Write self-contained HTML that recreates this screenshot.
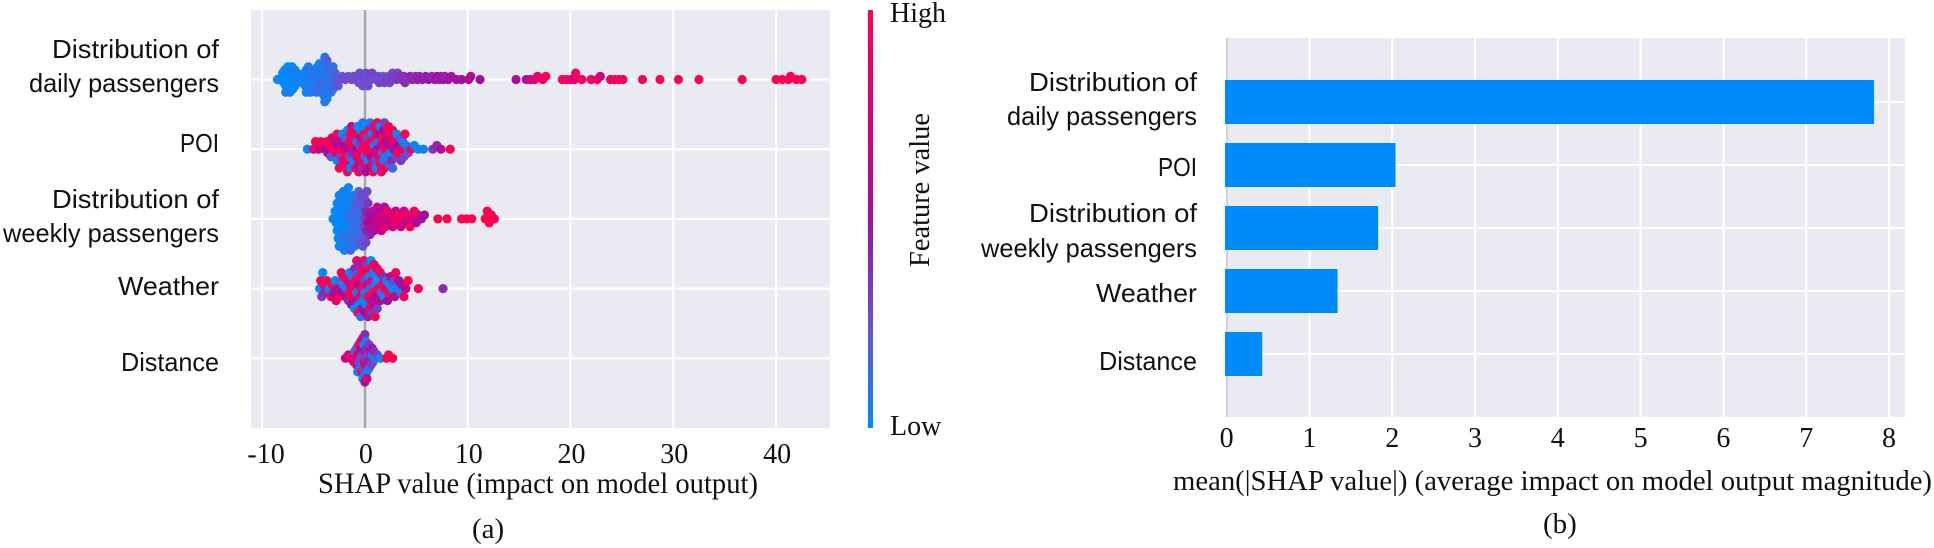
<!DOCTYPE html>
<html lang="en">
<head>
<meta charset="utf-8">
<title>SHAP summary plots</title>
<style>
html,body{margin:0;padding:0;background:#fff;width:1934px;height:548px;overflow:hidden}
svg{display:block}
.serif{font-family:"Liberation Serif",serif;fill:#111}
.sans{font-family:"Liberation Sans",sans-serif;fill:#111;font-size:26px}
</style>
</head>
<body>
<svg id="chart" width="1934" height="548" viewBox="0 0 1934 548" xmlns="http://www.w3.org/2000/svg">
<defs>
<linearGradient id="cbar" x1="0" y1="1" x2="0" y2="0">
<stop offset="0" stop-color="#008bfb"/><stop offset=".25" stop-color="#6a50d0"/><stop offset=".5" stop-color="#a010a0"/><stop offset=".75" stop-color="#d80080"/><stop offset="1" stop-color="#ff0051"/>
</linearGradient>
</defs>
<rect x="251" y="10" width="579" height="418" fill="#eaeaf2"/>
<rect x="1226" y="38" width="679" height="379" fill="#eaeaf2"/>
<g id="gridA"></g>
<g id="gridB"></g>
<rect x="363.8" y="10" width="2.4" height="418" fill="#a6a6a6"/>
<rect x="1226" y="38" width="2" height="379" fill="#d2d2d8"/>
<g id="dots"></g>
<g id="bars"></g>
<g id="ticksA" class="serif" font-size="28"></g>
<g id="ticksB" class="serif" font-size="28"></g>

<g class="sans">
<text x="52" y="58" textLength="167" lengthAdjust="spacingAndGlyphs">Distribution of</text>
<text x="29" y="92" textLength="190" lengthAdjust="spacingAndGlyphs">daily passengers</text>
<text x="180" y="152" textLength="39" lengthAdjust="spacingAndGlyphs">POI</text>
<text x="52" y="208" textLength="167" lengthAdjust="spacingAndGlyphs">Distribution of</text>
<text x="3" y="242" textLength="216" lengthAdjust="spacingAndGlyphs">weekly passengers</text>
<text x="118" y="295" textLength="101" lengthAdjust="spacingAndGlyphs">Weather</text>
<text x="121" y="371" textLength="98" lengthAdjust="spacingAndGlyphs">Distance</text>
</g>
<g class="sans">
<text x="1029" y="91" textLength="168" lengthAdjust="spacingAndGlyphs">Distribution of</text>
<text x="1007" y="125" textLength="190" lengthAdjust="spacingAndGlyphs">daily passengers</text>
<text x="1158" y="176" textLength="39" lengthAdjust="spacingAndGlyphs">POI</text>
<text x="1029" y="222" textLength="168" lengthAdjust="spacingAndGlyphs">Distribution of</text>
<text x="981" y="257" textLength="216" lengthAdjust="spacingAndGlyphs">weekly passengers</text>
<text x="1096" y="302" textLength="101" lengthAdjust="spacingAndGlyphs">Weather</text>
<text x="1099" y="370" textLength="98" lengthAdjust="spacingAndGlyphs">Distance</text>
</g>

<rect x="868" y="10" width="5" height="418" fill="url(#cbar)"/>
<text class="serif" x="890" y="22" font-size="28">High</text>
<text class="serif" x="890" y="435" font-size="28">Low</text>
<text class="serif" transform="translate(929,267) rotate(-90)" font-size="29" textLength="154" lengthAdjust="spacingAndGlyphs">Feature value</text>

<text class="serif" x="318" y="493" font-size="30" textLength="440" lengthAdjust="spacingAndGlyphs">SHAP value (impact on model output)</text>
<text class="serif" x="472" y="538" font-size="29">(a)</text>
<text class="serif" x="1173" y="490" font-size="29" textLength="759" lengthAdjust="spacingAndGlyphs">mean(|SHAP value|) (average impact on model output magnitude)</text>
<text class="serif" x="1543" y="533" font-size="29">(b)</text>
</svg>

<script>
const swarmTicks = [-10, 0, 10, 20, 30, 40];
const barTicks = [0, 1, 2, 3, 4, 5, 6, 7, 8];
const barValues = [7.82, 2.04, 1.83, 1.34, 0.43];
const barNames = ['daily', 'poi', 'weekly', 'weather', 'distance'];

const dailyShap = [-8.5,-8.1,-8,-7.9,-7.8,-7.8,-7.7,-7.7,-7.6,-7.6,-7.5,-7.5,-7.4,-7.4,-7.3,-7.3,-7.2,-7.2,-7.1,-7.1,-7,-7,-6.9,-6.8,-6.8,-6.7,-6.6,-6.5,-6.3,-6.1,-6,-5.9,-5.8,-5.8,-5.7,-5.7,-5.6,-5.6,-5.5,-5.5,-5.4,-5.4,-5.3,-5.3,-5.2,-5.2,-5.1,-5,-5,-4.9,-4.8,-4.8,-4.7,-4.7,-4.6,-4.6,-4.5,-4.5,-4.4,-4.4,-4.3,-4.3,-4.2,-4.2,-4.1,-4.1,-4,-4,-4,-3.9,-3.9,-3.9,-3.9,-3.8,-3.8,-3.8,-3.7,-3.7,-3.7,-3.6,-3.6,-3.5,-3.5,-3.4,-3.4,-3.3,-3.3,-3.2,-3.2,-3.1,-3.1,-3,-2.9,-2.8,-2.7,-2.6,-2.4,-2.2,-1.9,-1.6,-1.3,-1.1,-.9,-.7,-.6,-.5,-.3,-.2,-.1,0,.1,.2,.3,.4,.6,.7,.9,1.1,1.3,1.4,1.6,1.8,1.9,2.1,2.3,2.4,2.6,2.7,2.9,3.1,3.2,3.4,3.6,3.8,3.9,4.1,4.4,4.6,4.9,5.1,5.3,5.6,5.9,6.2,6.5,6.8,7,7.2,7.4,7.6,7.8,8.1,8.4,8.9,9.4,10.1,10.3,11.2,14.7,15.7,16.1,16.5,16.8,17.3,17.6,19.2,19.6,20,20.4,20.5,21.1,22,22.6,22.9,23.9,24.3,24.7,25.1,27,28.7,30.5,32.5,36.7,40,40.6,41.2,41.4,42,42.5];
const dailyFeature = [0,0,0,.02,0,.02,0,.03,0,.02,.03,0,.02,0,.03,.05,0,.02,.05,0,.03,.02,.05,0,.03,.05,.02,.05,.03,.05,.02,.05,.03,.06,.04,.02,.05,.08,.03,.06,.04,.08,.05,.03,.1,.06,.04,.08,.12,.06,.05,.1,.08,.12,.06,.04,.1,.15,.08,.05,.12,.08,.06,.1,.18,.08,.05,.1,.06,.12,.08,.05,.1,.14,.08,.06,.1,.2,.08,.12,.06,.1,.18,.08,.12,.06,.1,.15,.08,.12,.1,.14,.18,.2,.2,.22,.25,.24,.28,.25,.27,.24,.26,.28,.25,.27,.24,.26,.28,.25,.26,.24,.27,.28,.26,.3,.28,.25,.27,.3,.28,.25,.3,.32,.26,.3,.34,.28,.32,.35,.3,.36,.34,.38,.4,.36,.4,.42,.38,.45,.42,.46,.44,.48,.42,.46,.5,.44,.48,.52,.42,.5,.48,.52,.5,.54,.56,.52,.55,.52,.72,.82,.88,.9,.94,.92,.96,.86,.78,.95,.92,.98,.9,.72,.8,.94,.98,.92,.96,1,1,1,1,1,1,1,1,1,1,1,1];

const poiShap = [-5.6,-5,-4.8,-4.5,-4.3,-3.9,-3.7,-3.6,-3.4,-3.3,-3.2,-3.1,-2.9,-2.8,-2.7,-2.7,-2.6,-2.5,-2.4,-2.3,-2.3,-2.2,-2.1,-2,-1.9,-1.9,-1.8,-1.7,-1.7,-1.6,-1.5,-1.5,-1.4,-1.4,-1.3,-1.2,-1.2,-1.1,-1.1,-1,-.9,-.9,-.8,-.8,-.7,-.7,-.6,-.6,-.5,-.5,-.4,-.4,-.3,-.3,-.2,-.2,-.1,-.1,0,0,.1,.1,.2,.2,.3,.3,.4,.4,.5,.5,.6,.6,.7,.7,.8,.8,.9,.9,1,1,1.1,1.1,1.2,1.2,1.3,1.4,1.4,1.5,1.5,1.6,1.6,1.7,1.7,1.8,1.8,1.9,1.9,2,2.1,2.1,2.2,2.3,2.3,2.4,2.5,2.5,2.6,2.7,2.7,2.8,2.9,3,3.1,3.2,3.3,3.4,3.5,3.6,3.7,3.8,3.9,4,4.2,4.5,4.8,5.2,5.7,6.6,7,7.4,8.3];
const poiFeature = [0,.9,1,.7,1,.6,.95,.5,1,.2,.8,1,.6,.9,0,1,.5,.9,.3,1,.7,0,.95,.5,1,.2,.85,0,1,.6,.9,.25,1,0,.7,1,.4,.9,0,1,.55,1,.15,.85,1,0,.6,.95,.3,1,.5,0,.9,.35,1,.05,.75,1,.2,.95,0,.6,1,.3,.85,0,1,.5,.95,.1,1,.65,0,.9,.4,1,.05,.8,1,.3,.95,0,.6,1,.2,.85,.5,1,0,.7,.95,.25,1,.1,.6,.9,.3,1,.5,.05,.9,.25,1,.6,0,.85,.4,1,.15,.55,.9,.3,0,.5,1,.2,.35,.9,.05,.3,1,.05,.25,.9,.05,0,.05,.35,.4,.6,1];

const weeklyShap = [-3.1,-2.9,-2.8,-2.7,-2.7,-2.6,-2.6,-2.5,-2.5,-2.4,-2.4,-2.3,-2.3,-2.2,-2.2,-2.1,-2.1,-2,-2,-2,-1.9,-1.9,-1.8,-1.8,-1.7,-1.7,-1.6,-1.6,-1.6,-1.5,-1.5,-1.4,-1.4,-1.3,-1.3,-1.2,-1.2,-1.1,-1.1,-1,-1,-.9,-.9,-.8,-.8,-.7,-.7,-.6,-.6,-.5,-.5,-.4,-.4,-.3,-.3,-.2,-.2,-.1,-.1,0,0,.1,.1,.2,.2,.3,.3,.4,.5,.6,.7,.8,.9,1,1.1,1.2,1.3,1.4,1.5,1.6,1.7,1.8,1.9,2,2.1,2.2,2.4,2.5,2.7,2.8,3,3.1,3.3,3.5,3.6,3.8,4,4.2,4.4,4.6,4.8,5,5.2,5.5,5.8,7.1,8,9.4,9.9,10.4,11.7,11.9,12.1,12.3,12.6];
const weeklyFeature = [0,0,.02,0,.03,.02,0,.05,.02,0,.04,.02,.06,0,.03,.05,.02,0,.08,.03,.05,.1,.06,.03,.02,.05,.03,.1,.04,.14,.06,.1,.16,.06,.12,.08,.05,.15,.06,.18,.08,.12,.2,.1,.15,.08,.2,.12,.16,.1,.24,.14,.2,.12,.28,.16,.22,.3,.18,.35,.25,.4,.3,.45,.28,.5,.35,.55,.42,.6,.5,.62,.48,.7,.55,.72,.6,.78,.52,.75,.65,.82,.58,.85,.7,.88,.6,.8,.72,.9,.65,.85,.95,.7,.92,.75,.6,.9,.98,.7,.92,.6,.85,.55,.5,1,1,1,1,1,1,1,1,1,1];

const weatherShap = [-4.4,-4.3,-4.2,-4.1,-4,-3.9,-3.7,-3.5,-3.3,-3.2,-3,-2.9,-2.8,-2.6,-2.5,-2.4,-2.3,-2.2,-2.1,-2,-1.9,-1.8,-1.7,-1.6,-1.5,-1.5,-1.4,-1.3,-1.2,-1.2,-1.1,-1,-1,-.9,-.9,-.8,-.8,-.7,-.7,-.6,-.6,-.5,-.5,-.4,-.4,-.3,-.3,-.2,-.2,-.1,-.1,0,0,.1,.1,.2,.2,.3,.3,.4,.4,.5,.5,.6,.6,.7,.7,.8,.8,.9,.9,1,1,1.1,1.1,1.2,1.2,1.3,1.4,1.5,1.5,1.6,1.7,1.8,1.9,2,2.1,2.2,2.3,2.4,2.5,2.7,2.8,2.9,3,3.2,3.3,3.5,3.6,3.8,4,4.2,5.2,7.6];
const weatherFeature = [0,1,.35,0,.9,.4,1,.05,.9,1,.5,0,.85,.6,1,.2,.95,.5,0,1,.7,.1,.9,.4,1,0,.75,.5,1,.15,.95,.4,0,1,.6,.05,.9,.3,1,.55,0,.85,.4,1,.1,.95,.6,0,1,.3,.9,.05,.5,1,0,.8,.3,1,.45,0,.95,.2,1,.65,0,.9,.35,1,.1,.7,.95,.05,1,.5,0,.85,.3,1,0,.6,.95,.2,1,.4,0,.9,.1,.5,1,.05,.7,0,.3,.6,.9,.1,.5,.05,.55,.95,.6,1,1,.4];

const distanceShap = [-1.9,-1.6,-1.4,-1.2,-1.1,-1,-.9,-.8,-.8,-.7,-.7,-.6,-.6,-.5,-.5,-.4,-.4,-.3,-.3,-.3,-.2,-.2,-.2,-.1,-.1,-.1,0,0,0,0,.1,.1,.1,.2,.2,.2,.3,.3,.4,.4,.5,.5,.6,.7,.7,.8,.9,1,1.2,1.5,2.1,2.3,2.7];
const distanceFeature = [.75,.8,.7,.95,.8,.1,.9,.75,.2,.85,.05,.3,.9,.75,.1,.25,.85,.05,.5,.95,.25,.7,.05,.8,.3,.05,.45,.05,.4,.5,.35,.85,.05,.4,.05,.75,.25,.45,.05,.35,.4,.8,.3,.05,.45,.3,.4,.05,.3,.05,1,1,1];

const swarmRows = [
  {name:'daily', shap:dailyShap, feature:dailyFeature},
  {name:'poi', shap:poiShap, feature:poiFeature},
  {name:'weekly', shap:weeklyShap, feature:weeklyFeature},
  {name:'weather', shap:weatherShap, feature:weatherFeature},
  {name:'distance', shap:distanceShap, feature:distanceFeature}
];

const NS = 'http://www.w3.org/2000/svg';
function xA(v){ return 364.9 + v * 10.28; }
function yA(i){ return 79.5 + i * 69.7; }
function xB(v){ return 1226.6 + v * 82.8; }
function yB(i){ return 102 + i * 63; }
function swarmSpacing(name){
  if (name === 'daily') return 3.66;
  if (name === 'poi') return 4.35;
  if (name === 'weekly') return 4.5;
  if (name === 'weather') return 4.6;
  return 3.9;
}

function rgbAt(t){
  const stops = [[0,0,139,251],[.25,106,80,208],[.5,160,16,160],[.75,216,0,128],[1,255,0,81]];
  t = Math.max(0, Math.min(1, t));
  for (let i = 1; i < stops.length; i++) {
    if (t <= stops[i][0]) {
      const a = stops[i-1], b = stops[i], k = (t - a[0]) / (b[0] - a[0]);
      return 'rgb(' + [1,2,3].map(function(j){ return Math.round(a[j] + (b[j]-a[j]) * k); }).join(',') + ')';
    }
  }
  return 'rgb(255,0,81)';
}

function makeLine(x1, y1, x2, y2){
  const l = document.createElementNS(NS, 'line');
  l.setAttribute('x1', x1);
  l.setAttribute('y1', y1);
  l.setAttribute('x2', x2);
  l.setAttribute('y2', y2);
  l.setAttribute('stroke', '#fff');
  l.setAttribute('stroke-width', '2');
  return l;
}

function makeTick(x, y, label){
  const t = document.createElementNS(NS, 'text');
  t.setAttribute('x', x);
  t.setAttribute('y', y);
  t.setAttribute('text-anchor', 'middle');
  t.textContent = label;
  return t;
}

const gridA = document.getElementById('gridA');
const gridB = document.getElementById('gridB');
const ticksA = document.getElementById('ticksA');
const ticksB = document.getElementById('ticksB');

swarmTicks.forEach(function(v){
  const line = makeLine(xA(v), 10, xA(v), 428);
  
  
  gridA.appendChild(line);
  const tick = makeTick(xA(v) + (v < 0 ? 4 : 1), 463, String(v));
  
  
  ticksA.appendChild(tick);
});

swarmRows.forEach(function(row, i){
  const line = makeLine(251, yA(i), 830, yA(i));
  
  
  gridA.appendChild(line);
});

barTicks.forEach(function(v){
  const line = makeLine(xB(v), 38, xB(v), 417);
  
  
  gridB.appendChild(line);
  const tick = makeTick(xB(v), 447, String(v));
  
  
  ticksB.appendChild(tick);
});

barValues.forEach(function(v, i){
  const line = makeLine(1226, yB(i), 1905, yB(i));
  
  
  gridB.appendChild(line);
});

const barsG = document.getElementById('bars');
barValues.forEach(function(v, i){
  const r = document.createElementNS(NS, 'rect');
  r.setAttribute('x', xB(0) - 1.6);
  r.setAttribute('y', yB(i) - 22);
  r.setAttribute('width', xB(v) - xB(0) + 1.6);
  r.setAttribute('height', 44);
  r.setAttribute('fill', '#008bfb');
  
  
  barsG.appendChild(r);
});

const dotsG = document.getElementById('dots');
const DOT_R = 4.6;
swarmRows.forEach(function(row, rowIndex){
  const minDist = swarmSpacing(row.name);
  const rowStep = minDist * 0.87;
  const center = yA(rowIndex);
  const order = row.shap.map(function(v, i){ return i; }).sort(function(a, b){ return row.shap[a] - row.shap[b]; });
  const placed = [];
  const offsets = new Array(row.shap.length).fill(0);
  order.forEach(function(i){
    const x = xA(row.shap[i]);
    let k = 0, off = 0;
    for (;;) {
      off = (k === 0) ? 0 : Math.ceil(k / 2) * rowStep * (k % 2 ? -1 : 1);
      const free = placed.every(function(p){
        const dx = p.x - x, dy = p.y - off;
        return dx * dx + dy * dy >= minDist * minDist;
      });
      if (free) break;
      k++;
    }
    placed.push({x: x, y: off});
    offsets[i] = off;
  });
  row.shap.forEach(function(v, i){
    const c = document.createElementNS(NS, 'circle');
    c.setAttribute('cx', xA(v));
    c.setAttribute('cy', center + offsets[i]);
    c.setAttribute('r', DOT_R);
    const f = row.feature[i] === undefined ? 0.5 : row.feature[i];
    c.setAttribute('fill', rgbAt(f));
    
    
    dotsG.appendChild(c);
  });
});
</script>
</body>
</html>
